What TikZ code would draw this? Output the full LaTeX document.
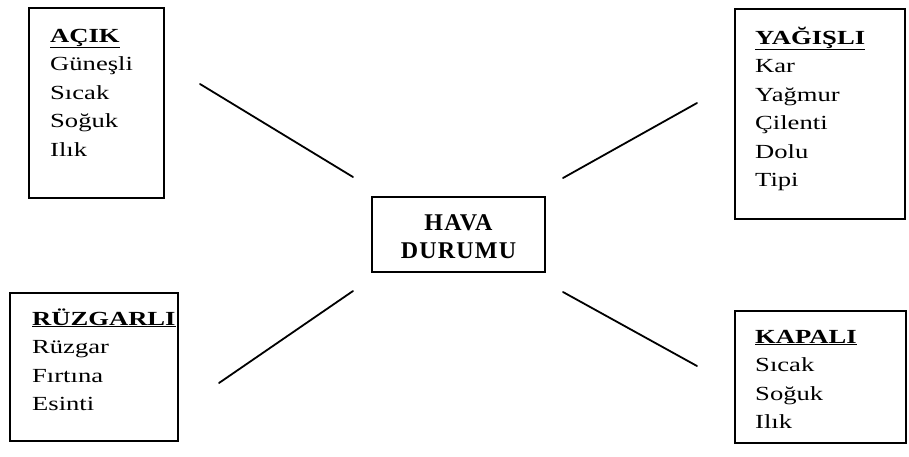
\documentclass[tikz,border=0pt]{standalone}
\usepackage{fontspec}
\setmainfont{Liberation Serif}
\usepackage{graphicx}
\newcommand\wtab[1]{\scalebox{1.33}[1]{\begin{tabular}[t]{@{}l@{}}#1\end{tabular}}}
\newcommand\hd[1]{\underline{\textbf{#1}}}
\begin{document}
\begin{tikzpicture}[x=1pt,y=-1pt,
  box/.style={draw, line width=1.8pt, rectangle, inner sep=0pt, anchor=north west},
  txt/.style={anchor=base west, inner sep=0pt, font=\fontsize{20}{28.5}\selectfont},
  link/.style={line width=1.8pt, line cap=round}]
\useasboundingbox (0,0) rectangle (909,456);
% boxes
\node[box, minimum width=135pt, minimum height=190pt] (acik) at (28,7) {};
\node[box, minimum width=170pt, minimum height=210pt] (yagisli) at (734,8) {};
\node[box, minimum width=168pt, minimum height=148pt] (ruzgarli) at (9,292) {};
\node[box, minimum width=171pt, minimum height=132pt] (kapali) at (734,310) {};
\node[draw, line width=1.8pt, rectangle, inner sep=0pt, minimum width=173pt, minimum height=75pt] (hava) at (458.5,234.5) {};
% texts
\node[txt] (acikT) at (50,42) {\wtab{\hd{AÇIK}\\ Güneşli\\ Sıcak\\ Soğuk\\ Ilık}};
\node[txt] (yagisliT) at (755,44) {\wtab{\hd{YAĞIŞLI}\\ Kar\\ Yağmur\\ Çilenti\\ Dolu\\ Tipi}};
\node[txt] (ruzgarliT) at (32,325) {\wtab{\hd{RÜZGARLI}\\ Rüzgar\\ Fırtına\\ Esinti}};
\node[txt] (kapaliT) at (755,343) {\wtab{\hd{KAPALI}\\ Sıcak\\ Soğuk\\ Ilık}};
\node[inner sep=0pt, align=center, font=\fontsize{24}{28}\selectfont\bfseries\addfontfeature{LetterSpace=5}] (havaT) at ([yshift=-2pt]hava.center) {HAVA\\DURUMU};
% connectors
\coordinate (l1a) at (200,84);  \coordinate (l1b) at (353,177);
\coordinate (l2a) at (563,178); \coordinate (l2b) at (697,103);
\coordinate (l3a) at (219,383); \coordinate (l3b) at (353,291);
\coordinate (l4a) at (563,292); \coordinate (l4b) at (697,366);
\draw[link] (l1a) -- (l1b);
\draw[link] (l2a) -- (l2b);
\draw[link] (l3a) -- (l3b);
\draw[link] (l4a) -- (l4b);
\end{tikzpicture}
\end{document}
